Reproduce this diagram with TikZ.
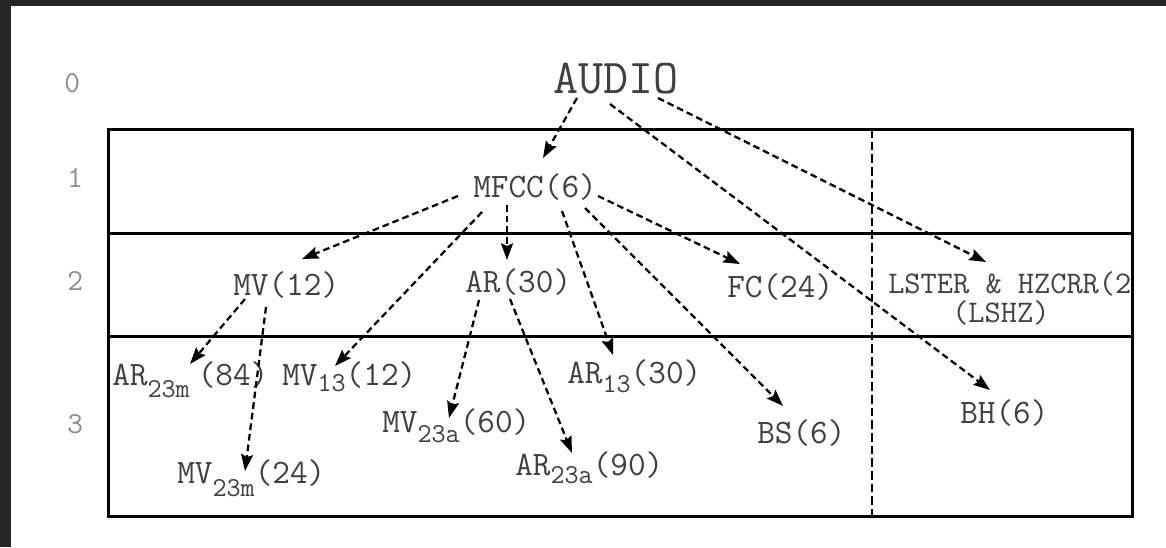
\documentclass[tikz,border=0pt]{standalone}
\usepackage{fontspec}
\usetikzlibrary{arrows.meta}
\definecolor{framebg}{HTML}{262626}
\definecolor{txt}{HTML}{404040}
\definecolor{rowtxt}{HTML}{8C8C8C}
% lowered, smaller index text
\newcommand\lowsub[2][7.5pt]{\raisebox{-#1}{\fontsize{20.5}{20.5}\selectfont #2}}
\begin{document}
\begin{tikzpicture}[x=0.75pt, y=-0.75pt,
  lbl/.style={inner sep=0pt, anchor=base west, text=txt,
    font=\ttfamily\fontsize{25.7}{27}\selectfont},
  biglbl/.style={lbl, font=\ttfamily\fontsize{36.5}{38}\selectfont},
  smalllbl/.style={lbl, font=\ttfamily\fontsize{23.6}{19.5}\selectfont},
  rowlbl/.style={inner sep=0pt, anchor=base west, text=rowtxt,
    font=\ttfamily\fontsize{22.9}{24}\selectfont},
  flow/.style={draw=black, line width=1.7pt, dash pattern=on 5pt off 3pt,
    -{Stealth[length=12.5pt, width=9pt, inset=2pt]}},
  frameline/.style={line width=2.25pt},
  split/.style={line width=2pt, dash pattern=on 6.5pt off 3pt}]

\useasboundingbox (0,0) rectangle (1166,547);
\fill[white] (0,0) rectangle (1166,547);
\fill[framebg] (0,0) rectangle (11,547);
\fill[framebg] (0,0) rectangle (1166,6);

% level numbers
\node[rowlbl] (r0) at (64,92)  {0};
\node[rowlbl] (r1) at (67,187) {1};
\node[rowlbl] (r2) at (67,290) {2};
\node[rowlbl] (r3) at (67,433) {3};

% feature labels
\node[biglbl] (audio) at (553,93)  {AUDIO};
\node[lbl] (mfcc)  at (473,197) {MFCC(6)};
\node[lbl] (mv)    at (233,295) {MV(12)};
\node[lbl] (ar)    at (465,292) {AR(30)};
\node[lbl] (fc)    at (727,297) {FC(24)};
\begin{scope}
  \clip (108,129) rectangle (1131,516);
  \node[smalllbl] (lster) at (888,293)
    {\begin{tabular}[t]{@{}l@{}}LSTER \& HZCRR(2)\\\hspace*{48pt}(LSHZ)\end{tabular}};
\end{scope}
\node[lbl] (ar23m) at (112,385) {AR\lowsub[9pt]{23m}\hspace{6pt}(84)};
\node[lbl] (mv13)  at (282,385) {MV\lowsub[5pt]{13}(12)};
\node[lbl] (mv23m) at (177,483) {MV\lowsub[10pt]{23m}(24)};
\node[lbl] (mv23a) at (382,432) {MV\lowsub[7.5pt]{23a}(60)};
\node[lbl] (ar23a) at (515,475) {AR\lowsub[6pt]{23a}(90)};
\node[lbl] (ar13)  at (567,383) {AR\lowsub[7pt]{13}(30)};
\node[lbl] (bs)    at (757,443) {BS(6)};
\node[lbl] (bh)    at (960,423) {BH(6)};

% table frame
\draw[frameline] (108,129) rectangle (1132,516);
\draw[frameline] (108,233) -- (1132,233);
\draw[frameline] (108,336) -- (1132,336);
\draw[split] (872,129) -- (872,516);

% derivations
\draw[flow] ([shift={(24,5)}]audio.base west)  -- ([shift={(70,-39)}]mfcc.base west);
\draw[flow] ([shift={(57,11)}]audio.base west)  -- ([shift={(30,-33)}]bh.base west);
\draw[flow] ([shift={(105,5)}]audio.base west)  -- ([shift={(98,-31)}]lster.base west);
\draw[flow] ([shift={(-15,-1)}]mfcc.base west)  -- ([shift={(69,-36)}]mv.base west);
\draw[flow] ([shift={(9,15)}]mfcc.base west)    -- ([shift={(53,-19)}]mv13.base west);
\draw[flow] ([shift={(34,8)}]mfcc.base west)    -- ([shift={(42,-32)}]ar.base west);
\draw[flow] ([shift={(89,14)}]mfcc.base west)   -- ([shift={(46,-28)}]ar13.base west);
\draw[flow] ([shift={(112,11)}]mfcc.base west)  -- ([shift={(26,-37)}]bs.base west);
\draw[flow] ([shift={(125,-1)}]mfcc.base west)  -- ([shift={(13,-33)}]fc.base west);
\draw[flow] ([shift={(12,4)}]mv.base west)      -- ([shift={(78,-21)}]ar23m.base west);
\draw[flow] ([shift={(33,12)}]mv.base west)     -- ([shift={(68,-12)}]mv23m.base west);
\draw[flow] ([shift={(14,8)}]ar.base west)      -- ([shift={(67,-14)}]mv23a.base west);
\draw[flow] ([shift={(45,7)}]ar.base west)      -- ([shift={(57,-22)}]ar23a.base west);
\end{tikzpicture}
\end{document}
